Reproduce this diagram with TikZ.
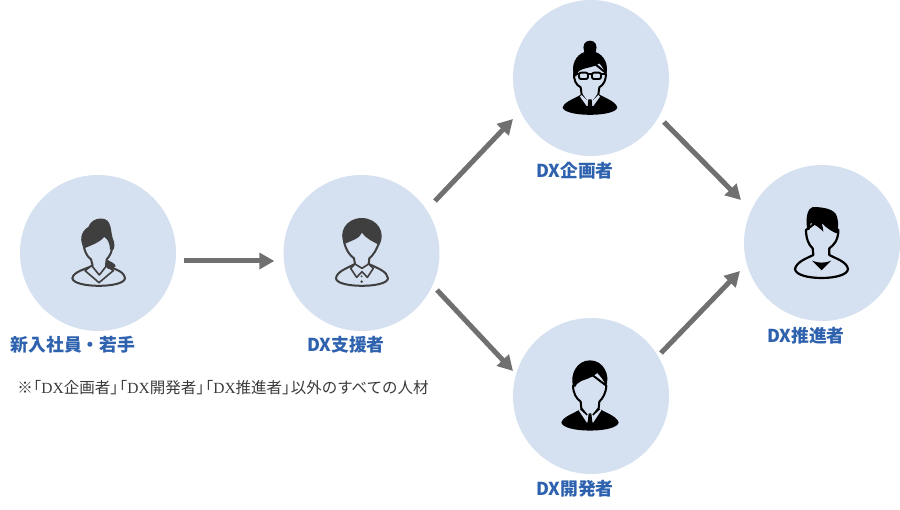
\documentclass[tikz,border=0pt]{standalone}
\usepackage{fontspec}
\setmainfont{Noto Sans CJK JP}
\newfontfamily\dxfont{Liberation Serif}
\usetikzlibrary{arrows.meta,calc}
\definecolor{disc}{HTML}{D5E0F0}
\definecolor{lbl}{HTML}{2F62AE}
\definecolor{arr}{HTML}{707070}
\definecolor{ink}{HTML}{3F3F3F}
\definecolor{note}{HTML}{3A3A3A}
\tikzset{
  person/.style={circle,fill=disc,minimum size=156pt,inner sep=0pt,draw=none},
  lab/.style={text=lbl,font=\fontsize{17.8}{19}\selectfont\bfseries,inner sep=0pt},
  flow/.style={draw=arr,line width=5pt,-{Triangle[length=15pt,width=16pt]}},
  zoomed/.style={x=0.3333pt,y=-0.3333pt,line join=round,line cap=round},
}
\begin{document}
\begin{tikzpicture}[x=1pt,y=-1pt]
\useasboundingbox (0,0) rectangle (900,510);
\node[person] (a) at (98,253) {};
\node[person] (b) at (361.5,253) {};
\node[person] (c) at (591,78) {};
\node[person] (d) at (591,396) {};
\node[person] (e) at (822,243) {};
\node[lab] (la) at (73,345) {新入社員・若手};
\node[lab] (lb) at (346,345) {DX支援者};
\node[lab] (lc) at (575,171) {DX企画者};
\node[lab] (ld) at (575,489) {DX開発者};
\node[lab] (le) at (806,336) {DX推進者};
\node[text=note,inner sep=0pt,font=\fontsize{15.5}{17}\selectfont] (nt) at (223,388) {※\kern-.45em「{\dxfont DX}企画者」\kern-.9em「{\dxfont DX}開発者」\kern-.9em「{\dxfont DX}推進者」\kern-.45em以外のすべての人材};
% arrows
\draw[flow] ([shift={(8,8)}]a.east) -- ([shift={(-9,8)}]b.west);
\draw[flow] ($(b.center)+(73.5,-52)$) -- ($(c.center)+(-78,41)$);
\draw[flow] ($(b.center)+(75.5,37)$) -- ($(d.center)+(-78,-25)$);
\draw[flow] ($(c.center)+(73,44)$) -- ($(e.center)+(-81,-43)$);
\draw[flow] ($(d.center)+(70,-43)$) -- ($(e.center)+(-82,28)$);
% icon a: woman, gray
\begin{scope}[shift={(50,200)},zoomed]
\draw[ink,line width=2pt,fill=disc] (67,235) .. controls (70,215) and (105,208) .. (128,197) -- (123,178) .. controls (110,170) and (102,150) .. (100,130) -- (145,90) -- (188,130) .. controls (188,155) and (178,170) .. (170,178) -- (168,197) .. controls (195,208) and (222,213) .. (225,235) .. controls (222,265) and (72,265) .. (67,235) -- cycle;
\draw[ink,line width=1.6pt,fill=disc] (105,212) -- (147,248) -- (190,212) -- (170,197) -- (148,225) -- (125,197) -- cycle;
\fill[ink] (103,145) .. controls (88,125) and (90,95) .. (116,80) .. controls (122,58) and (155,48) .. (172,62) .. controls (186,75) and (182,105) .. (192,125) .. controls (197,145) and (188,158) .. (180,148) .. controls (180,130) and (172,118) .. (165,108) .. controls (150,128) and (125,135) .. (103,145) -- cycle;
\fill[ink] (170,178) .. controls (180,185) and (197,190) .. (197,199) .. controls (188,208) and (178,212) .. (170,203) -- cycle;
\end{scope}
% icon b: man, gray
\begin{scope}[shift={(310,200)},zoomed]
\draw[ink,line width=2pt,fill=disc] (78,235) .. controls (80,215) and (110,205) .. (135,192) -- (132,175) .. controls (118,165) and (108,150) .. (102,125) -- (155,80) -- (208,125) .. controls (200,150) and (190,165) .. (178,175) -- (176,192) .. controls (205,205) and (232,215) .. (234,235) .. controls (232,265) and (80,265) .. (78,235) -- cycle;
\draw[ink,line width=1.6pt,fill=disc] (122,205) -- (140,232) -- (156,215) -- (172,232) -- (190,205) -- (176,192) -- (156,205) -- (135,192) -- cycle;
\fill[ink] (155,245) circle (4);\fill[ink] (155,229) circle (3);
\fill[ink] (103,132) .. controls (85,100) and (105,55) .. (155,54) .. controls (205,55) and (228,100) .. (208,135) .. controls (190,125) and (170,118) .. (156,98) .. controls (150,115) and (125,122) .. (103,132) -- cycle;
\end{scope}
% icon c: woman glasses, black
\begin{scope}[shift={(540,30)},zoomed]
\fill[black] (68,232) .. controls (75,212) and (110,205) .. (128,190) -- (150,228) -- (172,190) .. controls (195,205) and (225,212) .. (232,232) .. controls (228,262) and (72,262) .. (68,232) -- cycle;
\draw[black,line width=2pt,fill=disc] (125,194) -- (122,172) .. controls (108,165) and (100,150) .. (103,128) -- (150,90) -- (197,128) .. controls (200,150) and (190,165) .. (178,172) -- (175,194) -- (150,228) -- cycle;
\fill[black] (102,135) .. controls (92,105) and (108,75) .. (133,66) .. controls (126,48) and (133,32) .. (150,32) .. controls (167,32) and (174,48) .. (167,66) .. controls (192,75) and (208,105) .. (198,135) .. controls (192,118) and (185,108) .. (178,100) .. controls (160,114) and (130,112) .. (116,124) -- (108,140) -- cycle;
\draw[black,line width=1.9pt,fill=disc,rounded corners=2pt] (117,128) rectangle (144,147);
\draw[black,line width=1.9pt,fill=disc,rounded corners=2pt] (156,128) rectangle (183,147);
\draw[black,line width=2pt] (144,133) -- (156,133) (117,132) -- (106,132) (183,132) -- (194,132);
\fill[disc] (125,195) -- (142,212) -- (150,205) -- (158,212) -- (175,195) -- (180,200) -- (160,228) -- (140,228) -- (120,200) -- cycle;
\fill[black] (145,208) -- (155,208) -- (158,245) -- (150,252) -- (142,245) -- cycle;
\end{scope}
% icon d: man, black
\begin{scope}[shift={(540,345)},zoomed]
\fill[black] (64,232) .. controls (72,212) and (105,205) .. (124,190) -- (150,222) -- (176,190) .. controls (200,205) and (228,212) .. (236,232) .. controls (232,265) and (68,265) .. (64,232) -- cycle;
\draw[black,line width=2pt,fill=disc] (124,190) -- (122,170) .. controls (108,160) and (100,145) .. (99,122) -- (150,85) -- (199,122) .. controls (198,145) and (188,160) .. (178,170) -- (176,190) -- (150,222) -- cycle;
\fill[black] (100,125) .. controls (88,90) and (110,46) .. (150,46) .. controls (190,46) and (212,90) .. (198,125) .. controls (192,105) and (182,95) .. (172,84) .. controls (155,100) and (130,105) .. (112,112) -- (107,125) -- cycle;
\fill[disc] (118,192) -- (140,212) -- (150,202) -- (160,212) -- (182,192) -- (184,196) -- (160,232) -- (140,232) -- (116,196) -- cycle;
\fill[black] (146,205) -- (154,205) -- (158,240) -- (150,248) -- (142,240) -- cycle;
\end{scope}
% icon e: man, outline, black hair
\begin{scope}[shift={(770,195)},zoomed]
\draw[black,line width=2.2pt,fill=disc] (75,222) .. controls (80,200) and (110,190) .. (130,180) -- (128,160) .. controls (116,150) and (108,130) .. (108,105) -- (155,70) -- (205,105) .. controls (205,135) and (192,150) .. (178,160) -- (178,180) .. controls (200,192) and (230,200) .. (234,222) .. controls (232,258) and (78,258) .. (75,222) -- cycle;
\fill[black] (126,197) .. controls (145,205) and (165,205) .. (184,197) -- (155,226) -- cycle;
\fill[black] (112,105) .. controls (106,70) and (112,40) .. (128,36) .. controls (160,36) and (195,42) .. (201,65) .. controls (207,85) and (204,100) .. (200,115) .. controls (190,112) and (170,100) .. (155,84) .. controls (158,95) and (160,105) .. (160,110) .. controls (150,100) and (135,88) .. (122,84) -- (118,105) -- cycle;
\end{scope}
\end{tikzpicture}
\end{document}
